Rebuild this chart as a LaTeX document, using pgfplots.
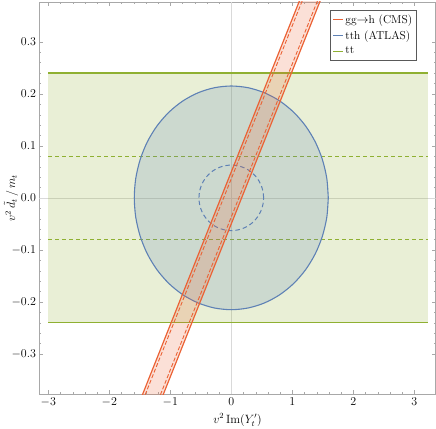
\documentclass[border=0pt]{standalone}
\usepackage{pgfplots}
\pgfplotsset{compat=1.18}
\definecolor{mred}{HTML}{EB6235}
\definecolor{mblue}{HTML}{5E81B5}
\definecolor{mgreen}{HTML}{8FB032}
\definecolor{framegray}{HTML}{A8A8A8}
\newcommand{\plotfont}{\fontsize{11.5}{13.8}\selectfont}

\begin{document}
\begin{tikzpicture}
\begin{axis}[
    scale only axis, width=396pt, height=392.5pt,
    xmin=-3.144, xmax=3.348, ymin=-0.378, ymax=0.3765,
    xtick={-3,-2,-1,0,1,2,3},
    ytick={-0.3,-0.2,-0.1,0,0.1,0.2,0.3},
    minor x tick num=4, minor y tick num=4,
    tick align=inside,
    major tick length=4pt, minor tick length=2pt,
    axis line style={framegray}, tick style={framegray},
    tick label style={font=\plotfont},
    label style={font=\plotfont},
    yticklabel style={/pgf/number format/.cd, fixed, fixed zerofill, precision=1},
    xlabel={$v^2\,\mathrm{Im}(Y_t')$},
    ylabel={$v^2\,\tilde{d}_t\,/\,m_t$},
    xlabel style={at={(axis description cs:0.5,-0.065)}, anchor=center},
    ylabel style={at={(axis description cs:-0.072,0.5)}, anchor=center},
    legend style={at={(rel axis cs:0.953,0.98)}, anchor=north east,
        draw=black!65, row sep=2pt, inner sep=2.5pt, font=\plotfont},
    legend cell align=left,
]

% legend entries (order as in the reference)
\addlegendimage{legend image code/.code={\draw[mred, line width=0.8pt] (0pt,0pt) -- (10pt,0pt);}}
\addlegendentry{gg$\rightarrow$h (CMS)}
\addlegendimage{legend image code/.code={\draw[mblue, line width=0.8pt] (0pt,0pt) -- (10pt,0pt);}}
\addlegendentry{tth (ATLAS)}
\addlegendimage{legend image code/.code={\draw[mgreen, line width=0.8pt] (0pt,0pt) -- (10pt,0pt);}}
\addlegendentry{tt}

% grid lines through the origin
\addplot[black!15, forget plot] coordinates {(0,-0.378) (0,0.3765)};
\addplot[black!15, forget plot] coordinates {(-3.144,0) (3.348,0)};

% tt band
\addplot[draw=none, fill=mgreen, fill opacity=0.2, forget plot] coordinates {
    (-3,-0.24) (3.22,-0.24) (3.22,0.24) (-3,0.24)} -- cycle;
\addplot[mgreen, line width=1.2pt, forget plot] coordinates {(-3,0.24) (3.22,0.24)};
\addplot[mgreen, line width=1.2pt, forget plot] coordinates {(-3,-0.24) (3.22,-0.24)};
\addplot[mgreen, line width=1pt, dash pattern=on 4pt off 3pt, forget plot] coordinates {(-3,0.08) (3.22,0.08)};
\addplot[mgreen, line width=1pt, dash pattern=on 4pt off 3pt, forget plot] coordinates {(-3,-0.08) (3.22,-0.08)};

% tth ellipse
\addplot[smooth, mblue, line width=1.1pt, fill=mblue, fill opacity=0.2, draw opacity=1, forget plot] coordinates {
    (1.59,0) (1.566,0.0373) (1.494,0.0735) (1.377,0.1075) (1.218,0.1382) (1.022,0.1647)
    (0.795,0.1862) (0.544,0.2020) (0.276,0.2117) (0,0.215)
    (-0.276,0.2117) (-0.544,0.2020) (-0.795,0.1862) (-1.022,0.1647) (-1.218,0.1382)
    (-1.377,0.1075) (-1.494,0.0735) (-1.566,0.0373) (-1.59,0)
    (-1.566,-0.0373) (-1.494,-0.0735) (-1.377,-0.1075) (-1.218,-0.1382) (-1.022,-0.1647)
    (-0.795,-0.1862) (-0.544,-0.2020) (-0.276,-0.2117) (0,-0.215)
    (0.276,-0.2117) (0.544,-0.2020) (0.795,-0.1862) (1.022,-0.1647) (1.218,-0.1382)
    (1.377,-0.1075) (1.494,-0.0735) (1.566,-0.0373) (1.59,0)} -- cycle;
\addplot[smooth, mblue, line width=1pt, dash pattern=on 4.5pt off 3pt, forget plot] coordinates {
    (0.53,0) (0.522,0.0109) (0.498,0.0215) (0.459,0.0315) (0.406,0.0405) (0.341,0.0483)
    (0.265,0.0546) (0.181,0.0592) (0.092,0.0620) (0,0.063)
    (-0.092,0.0620) (-0.181,0.0592) (-0.265,0.0546) (-0.341,0.0483) (-0.406,0.0405)
    (-0.459,0.0315) (-0.498,0.0215) (-0.522,0.0109) (-0.53,0)
    (-0.522,-0.0109) (-0.498,-0.0215) (-0.459,-0.0315) (-0.406,-0.0405) (-0.341,-0.0483)
    (-0.265,-0.0546) (-0.181,-0.0592) (-0.092,-0.0620) (0,-0.063)
    (0.092,-0.0620) (0.181,-0.0592) (0.265,-0.0546) (0.341,-0.0483) (0.406,-0.0405)
    (0.459,-0.0315) (0.498,-0.0215) (0.522,-0.0109) (0.53,0)};

% gg->h band
\addplot[draw=none, fill=mred, fill opacity=0.2, forget plot] coordinates {
    (-1.53,-0.4) (1.19,0.4) (1.53,0.4) (-1.19,-0.4)} -- cycle;
\addplot[mred, line width=1.2pt, forget plot] coordinates {(-1.53,-0.4) (1.19,0.4)};
\addplot[mred, line width=1.2pt, forget plot] coordinates {(-1.19,-0.4) (1.53,0.4)};
\addplot[mred, line width=0.9pt, dash pattern=on 4pt off 2pt, forget plot] coordinates {(-1.485,-0.4) (1.235,0.4)};
\addplot[mred, line width=0.9pt, dash pattern=on 4pt off 2pt, forget plot] coordinates {(-1.235,-0.4) (1.485,0.4)};

\end{axis}
\pgfresetboundingbox
\path[use as bounding box] (-39.5pt,-33.5pt) rectangle (396.5pt,394.5pt);
\end{tikzpicture}
\end{document}
